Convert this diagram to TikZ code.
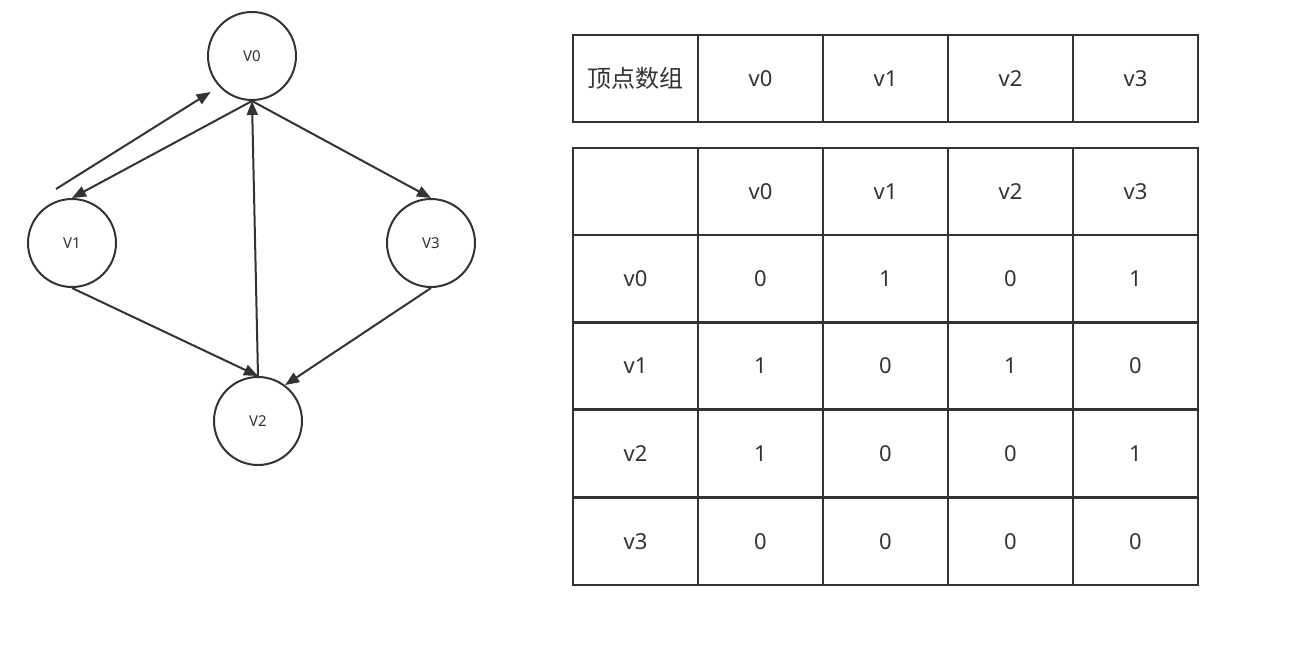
\documentclass[tikz,border=0pt]{standalone}
\usepackage{fontspec}
\setmainfont{Noto Sans}
\newfontfamily\cjk{Noto Sans CJK SC}
\usetikzlibrary{arrows.meta}
\definecolor{ink}{HTML}{333333}
\tikzset{
  vert/.style={circle,draw=ink,line width=2pt,minimum size=88pt,inner sep=0pt,font=\fontsize{15}{15}\selectfont,text=ink},
  edge/.style={draw=ink,line width=2pt,-{Triangle[length=14pt,width=11pt]}},
  cell/.style={rectangle,draw=ink,line width=2.2pt,minimum width=125pt,minimum height=87pt,inner sep=0pt,font=\fontsize{22}{22}\selectfont,text=ink}
}
\begin{document}
\begin{tikzpicture}[x=1pt,y=-1pt]
\useasboundingbox (0,0) rectangle (1311,664);
% graph
\node[vert] (v0) at (252,56) {V0};
\node[vert] (v1) at (72,243) {V1};
\node[vert] (v3) at (431,243) {V3};
\node[vert] (v2) at (258,421) {V2};
\coordinate (s1) at (56,189);
\draw[edge,shorten >=10pt] (s1) -- (v0.223);
\draw[edge] (v0.south) -- (v1.north);
\draw[edge] (v2.north) -- (v0.south);
\draw[edge] (v0.south) -- (v3.north);
\draw[edge] (v1.south) -- (v2.north);
\draw[edge] (v3.south) -- (v2.53);
% vertex array table
\node[cell,font=\cjk\fontsize{24}{24}\selectfont] (h0) at (635.5,78.5) {顶点数组};
\node[cell] (h1) at (760.5,78.5) {v0};
\node[cell] (h2) at (885.5,78.5) {v1};
\node[cell] (h3) at (1010.5,78.5) {v2};
\node[cell] (h4) at (1135.5,78.5) {v3};
% adjacency matrix
\node[cell] (m00) at (635.5,191.5) {};
\node[cell] (m01) at (760.5,191.5) {v0};
\node[cell] (m02) at (885.5,191.5) {v1};
\node[cell] (m03) at (1010.5,191.5) {v2};
\node[cell] (m04) at (1135.5,191.5) {v3};
\node[cell] (m10) at (635.5,278.5) {v0};
\node[cell] (m11) at (760.5,278.5) {0};
\node[cell] (m12) at (885.5,278.5) {1};
\node[cell] (m13) at (1010.5,278.5) {0};
\node[cell] (m14) at (1135.5,278.5) {1};
\node[cell] (m20) at (635.5,366) {v1};
\node[cell] (m21) at (760.5,366) {1};
\node[cell] (m22) at (885.5,366) {0};
\node[cell] (m23) at (1010.5,366) {1};
\node[cell] (m24) at (1135.5,366) {0};
\node[cell] (m30) at (635.5,453.5) {v2};
\node[cell] (m31) at (760.5,453.5) {1};
\node[cell] (m32) at (885.5,453.5) {0};
\node[cell] (m33) at (1010.5,453.5) {0};
\node[cell] (m34) at (1135.5,453.5) {1};
\node[cell] (m40) at (635.5,541.5) {v3};
\node[cell] (m41) at (760.5,541.5) {0};
\node[cell] (m42) at (885.5,541.5) {0};
\node[cell] (m43) at (1010.5,541.5) {0};
\node[cell] (m44) at (1135.5,541.5) {0};
\end{tikzpicture}
\end{document}
